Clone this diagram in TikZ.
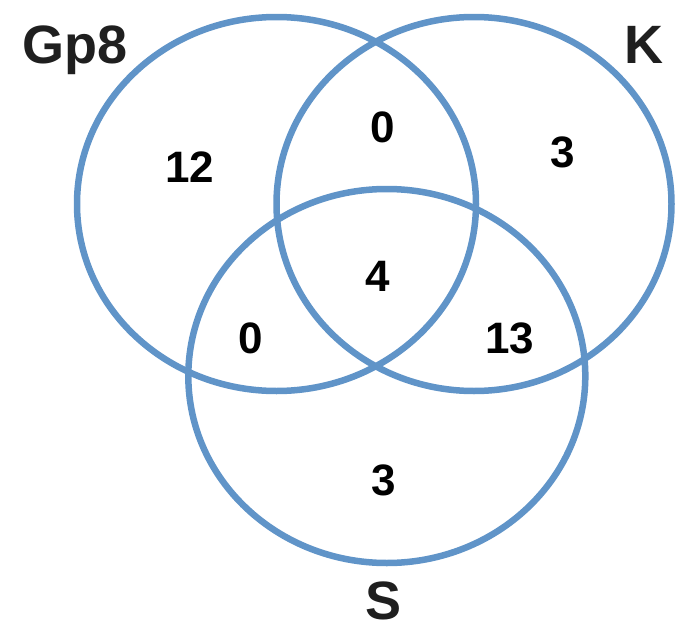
\documentclass[tikz,border=0pt]{standalone}
\usepackage{fontspec}
\setmainfont{Liberation Sans}
\definecolor{vennblue}{RGB}{96,148,200}
\begin{document}
\begin{tikzpicture}[x=1pt,y=-1pt,
  venn/.style={draw=vennblue,line width=6.5pt},
  num/.style={inner sep=0pt,anchor=base,font=\fontsize{44}{44}\selectfont\bfseries},
  lab/.style={inner sep=0pt,font=\fontsize{54}{54}\selectfont\bfseries,text=black!88}]
\useasboundingbox (0,0) rectangle (675,624);
\draw[venn] (276.5,204) ellipse [x radius=199.5, y radius=187];
\draw[venn] (474,204) ellipse [x radius=197.5, y radius=187];
\draw[venn] (386.8,376) ellipse [x radius=198.5, y radius=187];
\node[lab,anchor=base west] (gp8) at (22,63) {Gp8};
\node[lab,anchor=base] (k) at (643.5,63) {K};
\node[lab,anchor=base] (s) at (383.5,619) {S};
\node[num] (n12) at (189.5,182) {12};
\node[num] (n0a) at (383,142) {0};
\node[num] (n3a) at (562.5,167) {3};
\node[num] (n4) at (378,291) {4};
\node[num] (n0b) at (251,353) {0};
\node[num] (n13) at (510,353) {13};
\node[num] (n3b) at (383.5,495) {3};
\end{tikzpicture}
\end{document}
